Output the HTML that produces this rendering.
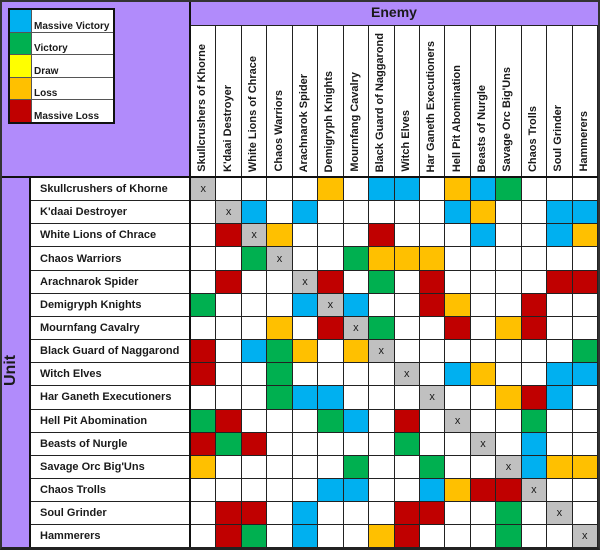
<!DOCTYPE html>
<html><head><style>
body{margin:0;width:600px;height:550px;background:#fff;position:relative;overflow:hidden;font-family:"Liberation Sans",sans-serif;font-weight:bold;color:#1a1a1a}
.a{position:absolute}
.pur{background:#b18bfb}
table{border-collapse:collapse;table-layout:fixed;position:absolute}
#g{left:190px;top:177px;width:408px}
#g td{height:22.16px;border:1px solid #222;padding:0;text-align:center;font-size:11px;font-weight:normal}
td.B{background:#00b0f0}td.G{background:#00b050}td.O{background:#ffc000}td.R{background:#c00000}td.X{background:#c0c0c0}td.Y{background:#ffff00}
#rl{left:30px;top:177px;width:160px}
#rl td{height:22.16px;border:1px solid #222;padding:0 0 0 9px;font-size:11px;white-space:nowrap;overflow:hidden}
#ch{left:190px;top:25px;width:408px}
#ch td{height:150px;border:1px solid #222;padding:0;vertical-align:bottom}
#ch div{writing-mode:vertical-rl;transform:rotate(180deg);font-size:11px;white-space:nowrap;margin:0 auto 4px;width:14px}
#lg{left:8px;top:8px;width:107px;border:2px solid #111;background:#fff}
#lg td{height:21.5px;border:1px solid #555;padding:0 0 0 2px;font-size:10px;vertical-align:bottom}
#lg td.c{width:21px;padding:0}
</style></head><body>
<div class="a pur" style="left:0;top:0;width:190px;height:177px"></div>
<div class="a pur" style="left:190px;top:0;width:410px;height:25px;border-bottom:1px solid #222"></div>
<div class="a" style="left:190px;top:4px;width:408px;text-align:center;font-size:14px">Enemy</div>
<div class="a pur" style="left:0;top:177px;width:30px;height:371px"></div>
<div class="a" style="left:2px;top:352px;width:28px;font-size:16px;writing-mode:vertical-rl;transform:rotate(180deg);height:36px;text-align:center">Unit</div>
<table id="lg">
<tr><td class="c B"></td><td>Massive Victory</td></tr>
<tr><td class="c G"></td><td>Victory</td></tr>
<tr><td class="c Y"></td><td>Draw</td></tr>
<tr><td class="c O"></td><td>Loss</td></tr>
<tr><td class="c R"></td><td>Massive Loss</td></tr>
</table>
<table id="ch"><tr>
<td><div>Skullcrushers of Khorne</div></td><td><div>K'daai Destroyer</div></td><td><div>White Lions of Chrace</div></td><td><div>Chaos Warriors</div></td><td><div>Arachnarok Spider</div></td><td><div>Demigryph Knights</div></td><td><div>Mournfang Cavalry</div></td><td><div>Black Guard of Naggarond</div></td><td><div>Witch Elves</div></td><td><div>Har Ganeth Executioners</div></td><td><div>Hell Pit Abomination</div></td><td><div>Beasts of Nurgle</div></td><td><div>Savage Orc Big'Uns</div></td><td><div>Chaos Trolls</div></td><td><div>Soul Grinder</div></td><td><div>Hammerers</div></td>
</tr></table>
<table id="rl">
<tr><td>Skullcrushers of Khorne</td></tr><tr><td>K'daai Destroyer</td></tr><tr><td>White Lions of Chrace</td></tr><tr><td>Chaos Warriors</td></tr><tr><td>Arachnarok Spider</td></tr><tr><td>Demigryph Knights</td></tr><tr><td>Mournfang Cavalry</td></tr><tr><td>Black Guard of Naggarond</td></tr><tr><td>Witch Elves</td></tr><tr><td>Har Ganeth Executioners</td></tr><tr><td>Hell Pit Abomination</td></tr><tr><td>Beasts of Nurgle</td></tr><tr><td>Savage Orc Big'Uns</td></tr><tr><td>Chaos Trolls</td></tr><tr><td>Soul Grinder</td></tr><tr><td>Hammerers</td></tr>
</table>
<table id="g">
<tr><td class="X">x</td><td></td><td></td><td></td><td></td><td class="O"></td><td></td><td class="B"></td><td class="B"></td><td></td><td class="O"></td><td class="B"></td><td class="G"></td><td></td><td></td><td></td></tr>
<tr><td></td><td class="X">x</td><td class="B"></td><td></td><td class="B"></td><td></td><td></td><td></td><td></td><td></td><td class="B"></td><td class="O"></td><td></td><td></td><td class="B"></td><td class="B"></td></tr>
<tr><td></td><td class="R"></td><td class="X">x</td><td class="O"></td><td></td><td></td><td></td><td class="R"></td><td></td><td></td><td></td><td class="B"></td><td></td><td></td><td class="B"></td><td class="O"></td></tr>
<tr><td></td><td></td><td class="G"></td><td class="X">x</td><td></td><td></td><td class="G"></td><td class="O"></td><td class="O"></td><td class="O"></td><td></td><td></td><td></td><td></td><td></td><td></td></tr>
<tr><td></td><td class="R"></td><td></td><td></td><td class="X">x</td><td class="R"></td><td></td><td class="G"></td><td></td><td class="R"></td><td></td><td></td><td></td><td></td><td class="R"></td><td class="R"></td></tr>
<tr><td class="G"></td><td></td><td></td><td></td><td class="B"></td><td class="X">x</td><td class="B"></td><td></td><td></td><td class="R"></td><td class="O"></td><td></td><td></td><td class="R"></td><td></td><td></td></tr>
<tr><td></td><td></td><td></td><td class="O"></td><td></td><td class="R"></td><td class="X">x</td><td class="G"></td><td></td><td></td><td class="R"></td><td></td><td class="O"></td><td class="R"></td><td></td><td></td></tr>
<tr><td class="R"></td><td></td><td class="B"></td><td class="G"></td><td class="O"></td><td></td><td class="O"></td><td class="X">x</td><td></td><td></td><td></td><td></td><td></td><td></td><td></td><td class="G"></td></tr>
<tr><td class="R"></td><td></td><td></td><td class="G"></td><td></td><td></td><td></td><td></td><td class="X">x</td><td></td><td class="B"></td><td class="O"></td><td></td><td></td><td class="B"></td><td class="B"></td></tr>
<tr><td></td><td></td><td></td><td class="G"></td><td class="B"></td><td class="B"></td><td></td><td></td><td></td><td class="X">x</td><td></td><td></td><td class="O"></td><td class="R"></td><td class="B"></td><td></td></tr>
<tr><td class="G"></td><td class="R"></td><td></td><td></td><td></td><td class="G"></td><td class="B"></td><td></td><td class="R"></td><td></td><td class="X">x</td><td></td><td></td><td class="G"></td><td></td><td></td></tr>
<tr><td class="R"></td><td class="G"></td><td class="R"></td><td></td><td></td><td></td><td></td><td></td><td class="G"></td><td></td><td></td><td class="X">x</td><td></td><td class="B"></td><td></td><td></td></tr>
<tr><td class="O"></td><td></td><td></td><td></td><td></td><td></td><td class="G"></td><td></td><td></td><td class="G"></td><td></td><td></td><td class="X">x</td><td class="B"></td><td class="O"></td><td class="O"></td></tr>
<tr><td></td><td></td><td></td><td></td><td></td><td class="B"></td><td class="B"></td><td></td><td></td><td class="B"></td><td class="O"></td><td class="R"></td><td class="R"></td><td class="X">x</td><td></td><td></td></tr>
<tr><td></td><td class="R"></td><td class="R"></td><td></td><td class="B"></td><td></td><td></td><td></td><td class="R"></td><td class="R"></td><td></td><td></td><td class="G"></td><td></td><td class="X">x</td><td></td></tr>
<tr><td></td><td class="R"></td><td class="G"></td><td></td><td class="B"></td><td></td><td></td><td class="O"></td><td class="R"></td><td></td><td></td><td></td><td class="G"></td><td></td><td></td><td class="X">x</td></tr>
</table>
<div class="a" style="left:189px;top:0;width:2px;height:548px;background:#111"></div>
<div class="a" style="left:0;top:176px;width:600px;height:2px;background:#111"></div>
<div class="a" style="left:29px;top:176px;width:2px;height:372px;background:#111"></div>
<div class="a" style="left:0;top:0;width:596px;height:545px;border:2px solid #333;border-bottom:3px solid #222"></div>
</body></html>
